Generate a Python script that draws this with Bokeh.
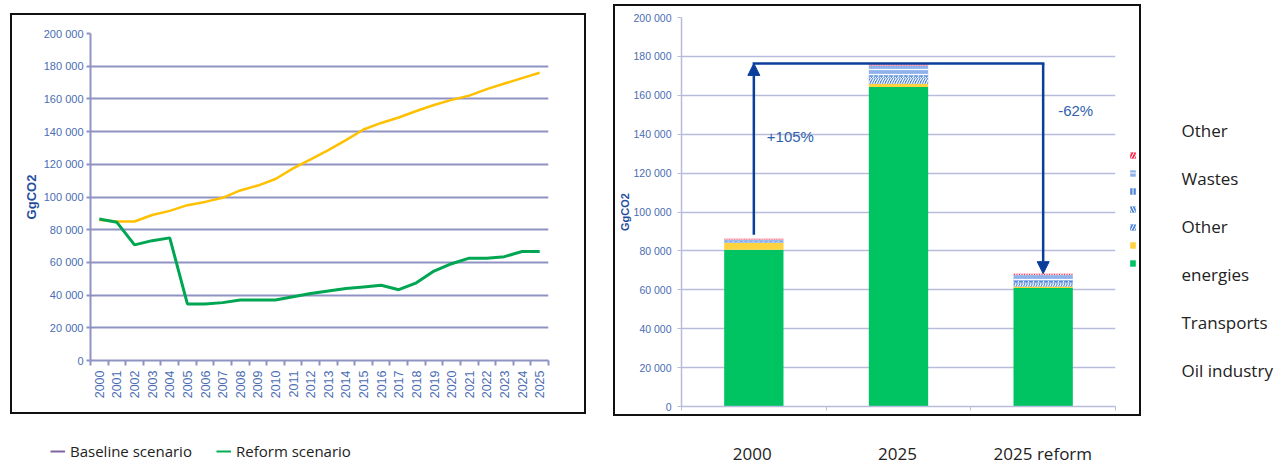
import math
from bokeh.plotting import figure
from bokeh.models import (FixedTicker, Legend, LegendItem, Label, Arrow, NormalHead,
                          Range1d, Spacer, ColumnDataSource)
from bokeh.layouts import row, column
from bokeh.embed import file_html
from bokeh.resources import INLINE
from bokeh.core.properties import value

# ---------------- data ----------------
years = list(range(2000, 2026))
baseline = [86000, 85000, 85000, 89000, 91500, 95000, 97000, 99500, 104000, 107000,
            111000, 117500, 123000, 128700, 134800, 141300, 145300, 148600, 152600,
            156300, 159400, 162000, 166000, 169400, 172700, 176000]
reform = [86500, 84500, 70700, 73300, 75000, 34600, 34600, 35400, 37000, 37000,
          37000, 39000, 41000, 42500, 44000, 45000, 46000, 43300, 47500, 54700,
          59200, 62600, 62600, 63500, 66700, 66700]
y_ticks = list(range(0, 200001, 20000))

categories = ["2000", "2025", "2025 reform"]
oil_industry = [80600, 164300, 60900]
transports = [3400, 1700, 800]
energies_a = [500, 2900, 1400]
energies_b = [300, 700, 700]
other_energies = [300, 700, 700]
wastes = [700, 5000, 3100]
other = [500, 500, 700]

left_legend_labels = ["Baseline scenario", "Reform scenario"]
right_legend_labels = ["Other", "Wastes", "Other", "energies", "Transports", "Oil industry"]
change_labels = ["+105%", "-62%"]

# ---------------- styles ----------------
ARIAL = "'Liberation Sans', sans-serif"
TICK_COL = "#4A6DB3"
LABEL_COL = "#1F4E9E"
GRID_L = "#8F93C3"
GRID_R = "#B7BBDC"
ARROW_COL = "#0B3E9B"
BOX_COL = "#111111"


def fmt(t):
    return f"{t:,}".replace(",", " ")


def bar(w, h):
    return Spacer(width=w, height=h, styles={"background-color": BOX_COL})


def boxed(inner_row, w, h):
    return column(bar(w, 2), row(bar(2, h - 4), *inner_row, bar(2, h - 4)), bar(w, 2))


# ---------------- left line chart ----------------
lp = figure(width=572, height=397, output_backend="svg", toolbar_location=None,
            x_range=Range1d(years[0] - 0.5, years[-1] + 0.5), y_range=Range1d(0, 200000),
            min_border_left=78, min_border_right=36, min_border_top=18, min_border_bottom=52,
            outline_line_color=None)
lp.line(years, baseline, line_color="#FFC000", line_width=2.5)
lp.line(years, reform, line_color="#00A651", line_width=3)
lp.xgrid.visible = False
lp.ygrid.ticker = FixedTicker(ticks=y_ticks)
lp.ygrid.grid_line_color = GRID_L
lp.ygrid.grid_line_width = 2
lp.yaxis.ticker = FixedTicker(ticks=y_ticks)
lp.yaxis.major_label_overrides = {t: fmt(t) for t in y_ticks}
lp.yaxis.major_label_text_font = ARIAL
lp.yaxis.major_label_text_font_size = "11px"
lp.yaxis.major_label_text_color = TICK_COL
lp.yaxis.major_label_standoff = 3
lp.yaxis.major_tick_out = 4
lp.yaxis.major_tick_in = 0
lp.yaxis.minor_tick_line_color = None
lp.yaxis.axis_line_color = GRID_L
lp.yaxis.axis_line_width = 2
lp.yaxis.major_tick_line_color = GRID_L
lp.yaxis.major_tick_line_width = 2
lp.yaxis.axis_label = "GgCO2"
lp.yaxis.axis_label_text_font = ARIAL
lp.yaxis.axis_label_text_font_style = "bold"
lp.yaxis.axis_label_text_font_size = "13px"
lp.yaxis.axis_label_text_color = LABEL_COL
lp.yaxis.axis_label_standoff = 2
lp.xaxis.ticker = FixedTicker(ticks=years,
                              minor_ticks=[y - 0.5 for y in years] + [years[-1] + 0.5])
lp.xaxis.major_label_orientation = math.pi / 2
lp.xaxis.major_label_text_font = ARIAL
lp.xaxis.major_label_text_font_size = "12.5px"
lp.xaxis.major_label_text_color = TICK_COL
lp.xaxis.major_label_standoff = 5
lp.xaxis.major_tick_out = 0
lp.xaxis.major_tick_in = 0
lp.xaxis.minor_tick_out = 5
lp.xaxis.minor_tick_in = 0
lp.xaxis.minor_tick_line_color = GRID_L
lp.xaxis.minor_tick_line_width = 2
lp.xaxis.axis_line_color = GRID_L
lp.xaxis.axis_line_width = 2

# ---------------- bottom-left legend ----------------
lg = figure(width=586, height=51, output_backend="svg", toolbar_location=None,
            x_range=Range1d(0, 586), y_range=Range1d(0, 51),
            x_axis_location=None, y_axis_location=None,
            min_border=0, outline_line_color=None)
lg.grid.visible = False
r_base = lg.line([math.nan], [math.nan], line_color="#8064A2", line_width=2)
r_ref = lg.line([math.nan], [math.nan], line_color="#00B050", line_width=2)
for rr, lab, loc in [(r_base, left_legend_labels[0], (50, 4)),
                     (r_ref, left_legend_labels[1], (216, 4))]:
    lg.add_layout(Legend(items=[LegendItem(label=lab, renderers=[rr])], location=loc,
                         glyph_width=15, glyph_height=16, label_height=16, label_standoff=5,
                         padding=0, margin=0, border_line_color=None,
                         background_fill_alpha=0,
                         label_text_font="Open Sans", label_text_font_size="15px",
                         label_text_color="#222222"))

# ---------------- right stacked bar chart ----------------
xs = [i + 0.5 for i in range(len(categories))]
layers = [oil_industry, transports, energies_a, energies_b, other_energies, wastes, other]
keys = ["oil_industry", "transports", "energies_a", "energies_b", "other_energies",
        "wastes", "other"]
src = ColumnDataSource(dict(x=xs, **{k: v for k, v in zip(keys, layers)}))
fills = ["#00C462", "#FFD23F", "#4F86D9", "#4F86D9", "#4F86D9", "#8FB2EA", "#FF2A4A"]
hatches = [" ", " ", "/", "\\", "|", "-", "/"]
bar_style = dict(fill_color=fills, line_color=None, hatch_pattern=hatches,
                 hatch_color="white", hatch_scale=5, hatch_weight=1.2)

rp = figure(width=510, height=408, output_backend="svg", toolbar_location=None,
            x_range=Range1d(0, len(categories)), y_range=Range1d(0, 200000),
            min_border_left=64, min_border_right=10, min_border_top=11, min_border_bottom=8,
            outline_line_color=None)
rp.vbar_stack(keys, x="x", width=0.41, source=src, **bar_style)
rp.xgrid.visible = False
rp.ygrid.ticker = FixedTicker(ticks=y_ticks)
rp.ygrid.grid_line_color = GRID_R
rp.ygrid.grid_line_width = 1.5
rp.yaxis.ticker = FixedTicker(ticks=y_ticks)
rp.yaxis.major_label_overrides = {t: fmt(t) for t in y_ticks}
rp.yaxis.major_label_text_font = ARIAL
rp.yaxis.major_label_text_font_size = "10.5px"
rp.yaxis.major_label_text_color = TICK_COL
rp.yaxis.major_label_standoff = 6
rp.yaxis.major_tick_out = 4
rp.yaxis.major_tick_in = 0
rp.yaxis.minor_tick_line_color = None
rp.yaxis.axis_line_color = GRID_R
rp.yaxis.axis_line_width = 1.5
rp.yaxis.major_tick_line_color = GRID_R
rp.yaxis.axis_label = "GgCO2"
rp.yaxis.axis_label_text_font = ARIAL
rp.yaxis.axis_label_text_font_style = "bold"
rp.yaxis.axis_label_text_font_size = "11px"
rp.yaxis.axis_label_text_color = LABEL_COL
rp.yaxis.axis_label_standoff = 0
rp.xaxis.ticker = FixedTicker(ticks=list(range(len(categories) + 1)))
rp.xaxis.major_label_overrides = {i: "" for i in range(len(categories) + 1)}
rp.xaxis.major_label_text_font_size = "1px"
rp.xaxis.major_label_standoff = 0
rp.xaxis.major_tick_out = 4
rp.xaxis.major_tick_in = 0
rp.xaxis.major_tick_line_color = GRID_R
rp.xaxis.minor_tick_line_color = None
rp.xaxis.axis_line_color = GRID_R
rp.xaxis.axis_line_width = 1.5

totals = [sum(v) for v in zip(*layers)]
up_start = totals[0] + 2000
top_y = totals[1] + 600
head = dict(size=12, fill_color=ARROW_COL, line_color=ARROW_COL)
rp.add_layout(Arrow(end=NormalHead(**head), x_start=xs[0], y_start=up_start, x_end=xs[0],
                    y_end=top_y, line_color=ARROW_COL, line_width=2.5))
rp.add_layout(Arrow(end=None, x_start=xs[0], y_start=top_y, x_end=xs[2], y_end=top_y,
                    line_color=ARROW_COL, line_width=2.5, line_cap="square"))
rp.add_layout(Arrow(end=NormalHead(**head), x_start=xs[2], y_start=top_y, x_end=xs[2],
                    y_end=totals[2], line_color=ARROW_COL, line_width=2.5))
rp.add_layout(Label(x=xs[0], y=139000, x_offset=13, text=change_labels[0],
                    text_baseline="middle", text_font=ARIAL, text_font_size="15px",
                    text_color="#2F5FAA"))
rp.add_layout(Label(x=xs[2], y=152000, x_offset=15, text=change_labels[1],
                    text_baseline="middle", text_font=ARIAL, text_font_size="15px",
                    text_color="#2F5FAA"))

# swatch strip (legend keys inside the box, right of the plot area)
nan_src = ColumnDataSource(dict(x=[math.nan], **{k: [math.nan] for k in keys}))
sw_style = dict(bar_style, hatch_scale=6, hatch_weight=1.0)
sw = figure(width=14, height=408, output_backend="svg", toolbar_location=None,
            x_range=Range1d(0, 1), y_range=Range1d(0, 1),
            x_axis_location=None, y_axis_location=None,
            min_border=0, outline_line_color=None)
sw.grid.visible = False
sw_rends = sw.vbar_stack(keys, x="x", width=0.41, source=nan_src, **sw_style)
sw.add_layout(Legend(items=[LegendItem(label=" ", renderers=[r]) for r in reversed(sw_rends)],
                     location=(4, 139), glyph_width=7, glyph_height=8,
                     label_height=8, label_width=0, label_standoff=0, spacing=10,
                     padding=0, margin=0, border_line_color=None, background_fill_alpha=0,
                     label_text_font_size="1px"))

# category labels below the box
cf = figure(width=528, height=49, output_backend="svg", toolbar_location=None,
            x_range=rp.x_range, y_range=Range1d(0, 49),
            x_axis_location=None, y_axis_location=None,
            min_border_left=66, min_border_right=26, min_border_top=0, min_border_bottom=0,
            outline_line_color=None)
cf.grid.visible = False
cf.text(x=xs, y=[12] * len(xs), text=categories, text_align="center",
        text_baseline="middle",
        text_font=value("Open Sans"), text_font_size="17px", text_color="#222222")

# right side legend texts
tf = figure(width=136, height=465, output_backend="svg", toolbar_location=None,
            x_range=Range1d(0, 136), y_range=Range1d(465, 0),
            x_axis_location=None, y_axis_location=None,
            min_border=0, outline_line_color=None)
tf.grid.visible = False
tf.text(x=[40] * len(right_legend_labels),
        y=[130 + 48 * i for i in range(len(right_legend_labels))],
        text=right_legend_labels, text_baseline="middle",
        text_font=value("Open Sans"), text_font_size="17px", text_color="#222222")

left_block = column(Spacer(width=586, height=13),
                    row(Spacer(width=10, height=401), boxed([lp], 576, 401)),
                    lg)
right_block = column(Spacer(width=528, height=4),
                     boxed([rp, sw], 528, 412),
                     cf)
layout = row(left_block, Spacer(width=27, height=465), right_block, tf)

open("out.html", "w").write(file_html(layout, INLINE))
